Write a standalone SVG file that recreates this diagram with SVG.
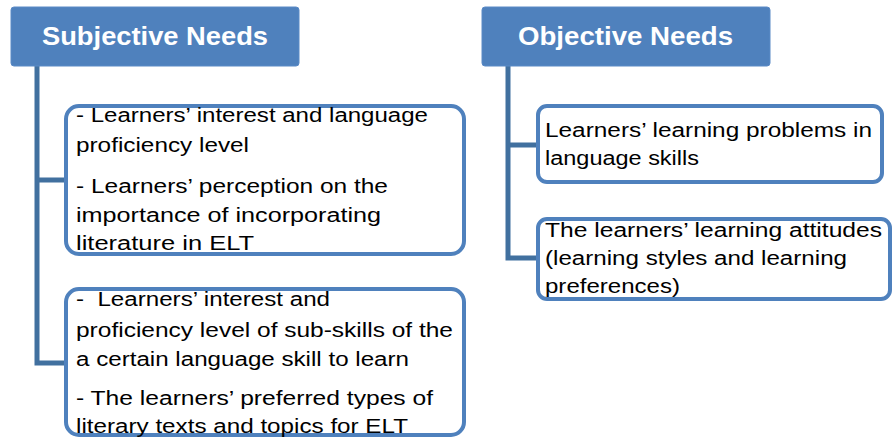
<svg xmlns="http://www.w3.org/2000/svg" width="893" height="442" viewBox="0 0 893 442">
<style>
.hdr{fill:#4f81bd;stroke:#5a8ac6;stroke-width:1}
.ht{font-family:"Liberation Sans",Arial,sans-serif;font-weight:bold;font-size:25px;fill:#fff}
.box{fill:#fff;stroke:#4f81bd;stroke-width:4}
.t{font-family:"Liberation Sans",Arial,sans-serif;font-size:20px;fill:#000;white-space:pre}
.con{fill:none;stroke:#41709f;stroke-width:5}
</style>
<rect width="893" height="442" fill="#fff"/>
<g id="connectors">
<path class="con" d="M37 66 V363 H66 M37 180 H66"/>
<path class="con" d="M508 66 V258 H538 M508 145 H538"/>
</g>
<g id="subjective">
<rect class="hdr" x="11" y="7" width="288" height="59" rx="3"/>
<text class="ht" x="42" y="45" textLength="226" lengthAdjust="spacingAndGlyphs">Subjective Needs</text>
</g>
<g id="objective">
<rect class="hdr" x="482" y="7" width="288" height="59" rx="3"/>
<text class="ht" x="518" y="45" textLength="215" lengthAdjust="spacingAndGlyphs">Objective Needs</text>
</g>
<g id="sub1">
<rect class="box" x="66" y="106" width="398" height="148" rx="13"/>
<text class="t" x="76" y="122" textLength="352" lengthAdjust="spacingAndGlyphs">- Learners’ interest and language</text>
<text class="t" x="76" y="152" textLength="173" lengthAdjust="spacingAndGlyphs">proficiency level</text>
<text class="t" x="76" y="193" textLength="312" lengthAdjust="spacingAndGlyphs">- Learners’ perception on the</text>
<text class="t" x="76" y="222" textLength="305" lengthAdjust="spacingAndGlyphs">importance of incorporating</text>
<text class="t" x="76" y="250" textLength="178" lengthAdjust="spacingAndGlyphs">literature in ELT</text>
</g>
<g id="sub2">
<rect class="box" x="66" y="289" width="398" height="146" rx="13"/>
<text class="t" x="76" y="306" textLength="254" lengthAdjust="spacingAndGlyphs" xml:space="preserve">-  Learners’ interest and</text>
<text class="t" x="76" y="337" textLength="377" lengthAdjust="spacingAndGlyphs">proficiency level of sub-skills of the</text>
<text class="t" x="76" y="366" textLength="333" lengthAdjust="spacingAndGlyphs">a certain language skill to learn</text>
<text class="t" x="76" y="405" textLength="357" lengthAdjust="spacingAndGlyphs">- The learners’ preferred types of</text>
<text class="t" x="76" y="433" textLength="332" lengthAdjust="spacingAndGlyphs">literary texts and topics for ELT</text>
</g>
<g id="obj1">
<rect class="box" x="538" y="106" width="344" height="76" rx="9"/>
<text class="t" x="545" y="137" textLength="327" lengthAdjust="spacingAndGlyphs">Learners’ learning problems in</text>
<text class="t" x="545" y="165" textLength="154" lengthAdjust="spacingAndGlyphs">language skills</text>
</g>
<g id="obj2">
<rect class="box" x="538" y="219" width="352" height="80" rx="9"/>
<text class="t" x="545" y="237" textLength="337" lengthAdjust="spacingAndGlyphs">The learners’ learning attitudes</text>
<text class="t" x="545" y="265" textLength="302" lengthAdjust="spacingAndGlyphs">(learning styles and learning</text>
<text class="t" x="545" y="293" textLength="135" lengthAdjust="spacingAndGlyphs">preferences)</text>
</g>
</svg>
